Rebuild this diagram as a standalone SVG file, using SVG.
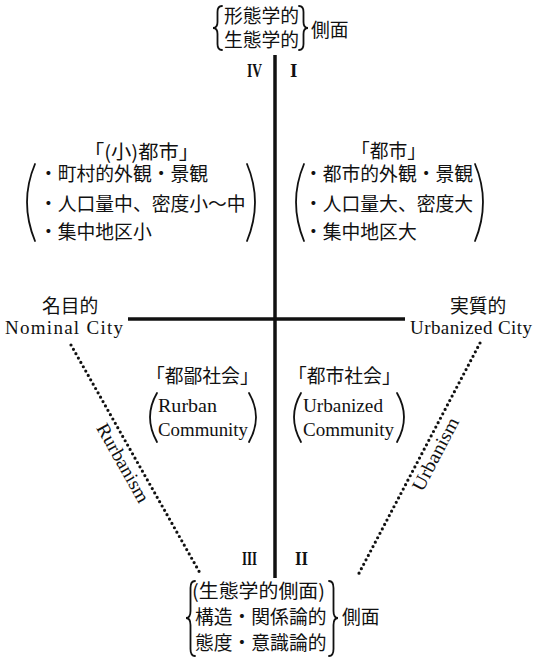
<svg xmlns="http://www.w3.org/2000/svg" width="546" height="661" viewBox="0 0 546 661">
<style>
.jp{font-family:"Noto Sans CJK JP","Noto Sans CJK SC",sans-serif;font-size:18.8px;fill:#111}
.en{font-family:"Liberation Serif","DejaVu Serif",serif;font-size:19px;fill:#111}
.rn{font-family:"Liberation Serif",serif;font-size:19px;font-weight:bold;fill:#111}
.br{fill:none;stroke:#111;stroke-width:1.8;stroke-linecap:round}
.axis{stroke:#111;stroke-width:3.5;fill:none}
.dot{stroke:#111;stroke-width:3.2;stroke-linecap:round;stroke-dasharray:0 5;fill:none}
</style>
<rect width="546" height="661" fill="#fff"/>
<g id="connectors">
<line class="axis" x1="275" y1="55" x2="275" y2="578"/>
<line class="axis" x1="128" y1="319" x2="405" y2="319"/>
<line class="dot" x1="71" y1="345" x2="200" y2="573"/>
<line class="dot" x1="480" y1="343" x2="357" y2="577"/>
<text class="en" transform="translate(117.5,466) rotate(60.5)" text-anchor="middle" textLength="88" lengthAdjust="spacingAndGlyphs">Rurbanism</text>
<text class="en" transform="translate(441,457) rotate(-62.3)" text-anchor="middle" textLength="80" lengthAdjust="spacingAndGlyphs">Urbanism</text>
</g>
<g id="top">
<path class="br" d="M222,6 Q217.5,6 217.5,12 L217.5,22 Q217.5,28 213,28 Q217.5,28 217.5,34 L217.5,44 Q217.5,50 222,50"/>
<text class="jp" x="224" y="23">形態学的</text>
<text class="jp" x="224" y="47">生態学的</text>
<path class="br" d="M299,6 Q303.5,6 303.5,12 L303.5,22 Q303.5,28 308,28 Q303.5,28 303.5,34 L303.5,44 Q303.5,50 299,50"/>
<text class="jp" x="311" y="37">側面</text>
</g>
<g id="numerals">
<text class="rn" x="247" y="77" textLength="15" lengthAdjust="spacingAndGlyphs">IV</text>
<text class="rn" x="290" y="77">I</text>
<text class="rn" x="242" y="565" textLength="15" lengthAdjust="spacingAndGlyphs">III</text>
<text class="rn" x="295" y="565" textLength="13" lengthAdjust="spacingAndGlyphs">II</text>
</g>
<g id="quadrant1-left">
<text class="jp" x="84" y="159" textLength="115" lengthAdjust="spacingAndGlyphs">「(小)都市」</text>
<path class="br" d="M35,164 Q19,202 35,241"/>
<text class="jp" x="39" y="181">・町村的外観・景観</text>
<text class="jp" x="39" y="211">・人口量中、密度小〜中</text>
<text class="jp" x="39" y="239">・集中地区小</text>
<path class="br" d="M247,164 Q263,202 247,241"/>
</g>
<g id="quadrant1-right">
<text class="jp" x="351" y="158">「都市」</text>
<path class="br" d="M304,164 Q288,202 304,241"/>
<text class="jp" x="304" y="181">・都市的外観・景観</text>
<text class="jp" x="304" y="211">・人口量大、密度大</text>
<text class="jp" x="304" y="239">・集中地区大</text>
<path class="br" d="M475,164 Q491,202 475,241"/>
</g>
<g id="nominal">
<text class="jp" x="42" y="313">名目的</text>
<text class="en" x="5" y="334" textLength="118" lengthAdjust="spacing">Nominal City</text>
</g>
<g id="urbanized">
<text class="jp" x="450" y="313">実質的</text>
<text class="en" x="410" y="334" textLength="122" lengthAdjust="spacing">Urbanized City</text>
</g>
<g id="rurban-community">
<text class="jp" x="146" y="383">「都鄙社会」</text>
<path class="br" d="M157,393 Q143,417 157,442"/>
<text class="en" x="158" y="412" textLength="59" lengthAdjust="spacingAndGlyphs">Rurban</text>
<text class="en" x="158" y="436" textLength="90" lengthAdjust="spacingAndGlyphs">Community</text>
<path class="br" d="M249,393 Q263,417 249,442"/>
</g>
<g id="urbanized-community">
<text class="jp" x="288" y="383">「都市社会」</text>
<path class="br" d="M301,393 Q287,417 301,442"/>
<text class="en" x="303" y="412" textLength="80" lengthAdjust="spacingAndGlyphs">Urbanized</text>
<text class="en" x="303" y="436" textLength="91" lengthAdjust="spacingAndGlyphs">Community</text>
<path class="br" d="M397,393 Q411,417 397,442"/>
</g>
<g id="bottom">
<path class="br" d="M195,581 Q190.5,581 190.5,588 L190.5,611 Q190.5,618 186,618 Q190.5,618 190.5,625 L190.5,649 Q190.5,656 195,656"/>
<text class="jp" x="192" y="598" textLength="133" lengthAdjust="spacingAndGlyphs">(生態学的側面)</text>
<text class="jp" x="195" y="624">構造・関係論的</text>
<text class="jp" x="195" y="650">態度・意識論的</text>
<path class="br" d="M329,581 Q333.5,581 333.5,588 L333.5,611 Q333.5,618 338,618 Q333.5,618 333.5,625 L333.5,649 Q333.5,656 329,656"/>
<text class="jp" x="342" y="624">側面</text>
</g>
</svg>
